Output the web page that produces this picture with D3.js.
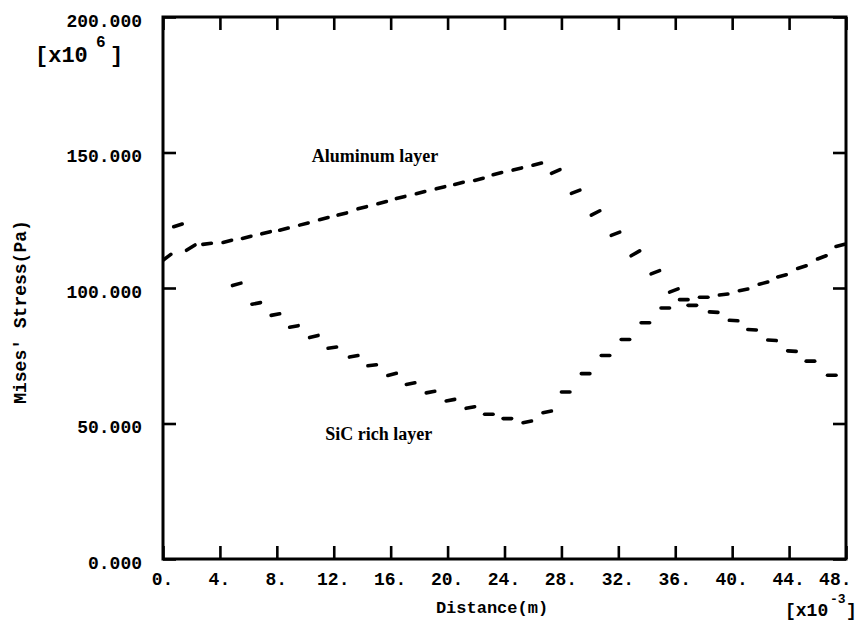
<!DOCTYPE html>
<html>
<head>
<meta charset="utf-8">
<script src="https://cdn.jsdelivr.net/npm/d3@7"></script>
<style>
  html, body { margin: 0; background: #fff; }
  svg { display: block; }
  .mono { font-family: "Liberation Mono", "DejaVu Sans Mono", monospace; font-weight: bold; fill: #000; }
  .note { font-family: "Liberation Serif", "Times New Roman", serif; font-weight: bold; fill: #000; }
</style>
</head>
<body>
<svg id="chart" width="858" height="623"></svg>
<script>
// Axis ticks (distance in 1e-3 m, stress in 1e6 Pa)
const distanceTicks = [0, 4, 8, 12, 16, 20, 24, 28, 32, 36, 40, 44, 48];
const stressTicks = [0, 50, 100, 150, 200];

// Aluminum layer: element centres and stress at the two integration points of each element
const aluminumX = [0.25, 1.95, 3.1, 4.52, 5.88, 7.24, 8.5, 9.9, 11.3, 12.6, 14.0, 15.4, 16.7, 18.1,
  19.5, 20.8, 22.2, 23.5, 24.9, 26.3, 27.6, 29.0, 30.4, 31.8, 33.2, 34.6, 35.9, 37.2, 38.7, 40.1,
  41.4, 42.8, 44.2, 45.5, 47.0];
const aluminumLeft = [110.0, 113.9, 116.1, 116.8, 118.3, 120.0, 121.3, 123.2, 125.2, 126.9, 129.2,
  131.1, 133.0, 134.8, 136.6, 138.2, 139.7, 141.8, 143.5, 145.3, 142.3, 134.9, 126.9, 119.4, 111.9,
  105.2, 98.5, 93.6, 91.2, 88.1, 84.7, 80.8, 76.8, 73.0, 67.8];
const aluminumRight = [112.4, 115.9, 116.5, 117.6, 119.1, 120.8, 122.1, 124.0, 126.0, 127.7, 130.0,
  131.9, 133.8, 135.6, 137.4, 139.0, 140.5, 142.6, 144.3, 146.1, 143.7, 136.1, 128.5, 120.6, 113.7,
  106.4, 99.7, 93.6, 91.0, 87.9, 84.5, 80.6, 76.6, 73.0, 67.8];

// SiC rich layer
const sicX = [1.05, 5.18, 6.55, 7.9, 9.2, 10.6, 11.9, 13.4, 14.7, 16.1, 17.4, 18.8, 20.2, 21.6, 22.9,
  24.2, 25.6, 27.0, 28.3, 29.7, 31.1, 32.5, 33.9, 35.3, 36.6, 38.0, 39.4, 40.8, 42.2, 43.5, 44.9,
  46.3, 47.6];
const sicLeft = [122.6, 100.9, 94.0, 89.9, 85.5, 81.7, 77.8, 74.5, 71.3, 67.7, 64.4, 61.3, 58.3, 55.6,
  53.4, 51.8, 50.3, 54.0, 61.6, 68.4, 75.1, 81.0, 87.2, 92.6, 95.7, 96.6, 97.4, 99.0, 101.4, 104.1,
  107.2, 110.7, 115.3];
const sicRight = [123.6, 101.8, 94.6, 90.5, 86.1, 82.5, 78.2, 75.1, 71.7, 68.5, 65.0, 61.9, 58.9, 56.2,
  53.4, 51.8, 50.9, 54.6, 61.6, 68.4, 75.1, 81.0, 87.2, 92.6, 95.7, 96.6, 97.8, 99.6, 102.2, 104.9,
  108.2, 111.9, 116.1];

const layerNames = ["Aluminum layer", "SiC rich layer"];

// Half distance between the two integration points of an element (1e-3 m)
const halfSpan = 0.3;

const svg = d3.select("#chart");
const plot = { left: 163, right: 846, top: 17, bottom: 559 };

const x = d3.scaleLinear().domain([0, 48]).range([plot.left, plot.right]);
const y = d3.scaleLinear().domain([0, 200]).range([plot.bottom, plot.top]);

svg.append("defs").append("clipPath").attr("id", "plot-clip")
  .append("rect")
  .attr("x", plot.left).attr("y", plot.top)
  .attr("width", plot.right - plot.left).attr("height", plot.bottom - plot.top);

// Axes with inward ticks on all four sides
function styleAxis(g) {
  g.select(".domain").remove();
  g.selectAll(".tick line").attr("stroke", "#000").attr("stroke-width", 2.6);
  g.selectAll(".tick text").attr("class", "mono").attr("fill", "#000").style("font-size", "18px");
}

const bottomAxis = svg.append("g")
  .attr("transform", `translate(0,${plot.bottom})`)
  .call(d3.axisBottom(x).tickValues(distanceTicks).tickSize(-13).tickPadding(13)
    .tickFormat(d => d + "."))
  .call(styleAxis);
bottomAxis.selectAll(".tick text").attr("x", -1);
bottomAxis.selectAll(".tick text").filter(d => d === 48)
  .attr("text-anchor", "end").attr("x", 5);

svg.append("g")
  .attr("transform", `translate(0,${plot.top})`)
  .call(d3.axisTop(x).tickValues(distanceTicks).tickSize(-13).tickFormat(""))
  .call(styleAxis);

svg.append("g")
  .attr("transform", `translate(${plot.left},0)`)
  .call(d3.axisLeft(y).tickValues(stressTicks).tickSize(-13).tickPadding(21)
    .tickFormat(d3.format(".3f")))
  .call(styleAxis)
  .selectAll(".tick text").attr("dy", "0.5em");

svg.append("g")
  .attr("transform", `translate(${plot.right},0)`)
  .call(d3.axisRight(y).tickValues(stressTicks).tickSize(-13).tickFormat(""))
  .call(styleAxis);

// Frame
svg.append("rect")
  .attr("x", plot.left).attr("y", plot.top)
  .attr("width", plot.right - plot.left).attr("height", plot.bottom - plot.top)
  .attr("fill", "none").attr("stroke", "#000").attr("stroke-width", 3);

// Element stress segments (one dash per element, between its integration points)
function drawLayer(xs, left, right) {
  const segs = xs.map((c, i) => ({ x0: c - halfSpan, x1: c + halfSpan, y0: left[i], y1: right[i] }));
  svg.append("g").attr("clip-path", "url(#plot-clip)")
    .selectAll("line").data(segs).join("line")
    .attr("x1", d => x(d.x0)).attr("y1", d => y(d.y0))
    .attr("x2", d => x(d.x1)).attr("y2", d => y(d.y1))
    .attr("stroke", "#000").attr("stroke-width", 3.6).attr("stroke-linecap", "round");
}
drawLayer(aluminumX, aluminumLeft, aluminumRight);
drawLayer(sicX, sicLeft, sicRight);

// Layer labels
svg.append("text").attr("class", "note").style("font-size", "18px")
  .attr("x", x(10.45)).attr("y", y(146.4)).text(layerNames[0]);
svg.append("text").attr("class", "note").style("font-size", "18px")
  .attr("x", x(11.4)).attr("y", y(43.9)).text(layerNames[1]);

// Axis titles
svg.append("text").attr("class", "mono").style("font-size", "17px")
  .attr("text-anchor", "middle").attr("x", 492).attr("y", 613)
  .text("Distance(m)");

svg.append("text").attr("class", "mono").style("font-size", "18px")
  .attr("text-anchor", "middle")
  .attr("transform", "translate(26,312) rotate(-90)")
  .text("Mises' Stress(Pa)");

// Scale multipliers
svg.append("text").attr("class", "mono").style("font-size", "22px")
  .attr("x", 35).attr("y", 62).text("[x10");
svg.append("text").attr("class", "mono").style("font-size", "16px")
  .attr("x", 96).attr("y", 47).text("6");
svg.append("text").attr("class", "mono").style("font-size", "22px")
  .attr("x", 110).attr("y", 62).text("]");

svg.append("text").attr("class", "mono").style("font-size", "18px")
  .attr("x", 785).attr("y", 616).text("[x10");
svg.append("text").attr("class", "mono").style("font-size", "13px")
  .attr("x", 830).attr("y", 603).text("-3");
svg.append("text").attr("class", "mono").style("font-size", "18px")
  .attr("x", 846).attr("y", 616).text("]");
</script>
</body>
</html>
